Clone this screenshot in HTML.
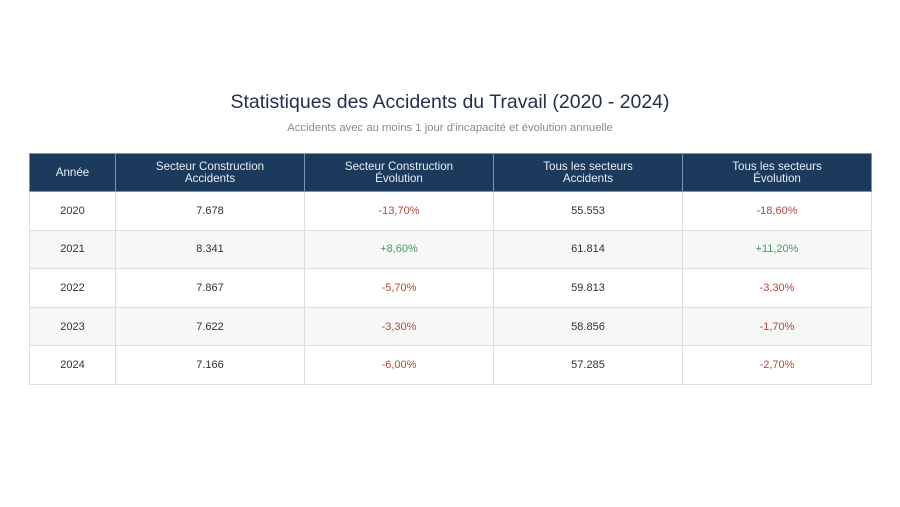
<!DOCTYPE html>
<html><head><meta charset="utf-8"><style>
html,body{margin:0;padding:0;background:#fff;width:900px;height:507px;overflow:hidden;font-family:"Liberation Sans",sans-serif;}
.title{position:absolute;left:0;width:900px;top:91px;text-align:center;font-size:19.5px;color:#22324a;}
.sub{position:absolute;left:0;width:900px;top:122px;text-align:center;font-size:11.3px;color:#8a8a8a;}
table{position:absolute;left:29px;top:153px;width:842px;border-collapse:collapse;table-layout:fixed;}
th{background:#1b3a5c;color:#e8eef5;font-weight:normal;font-size:11.6px;line-height:12px;height:37px;padding:0;border:1px solid #7e93ab;text-align:center;}
td{height:37.6px;padding:0;border:1px solid #dedede;text-align:center;font-size:11px;color:#333;}
tr:nth-child(even) td{background:#f7f7f7;}
.r{color:#b04a3c;}
.g{color:#3ea163;}
</style></head><body>
<div class="title">Statistiques des Accidents du Travail (2020 - 2024)</div>
<div class="sub">Accidents avec au moins 1 jour d'incapacité et évolution annuelle</div>
<table>
<colgroup><col style="width:86px"><col style="width:189px"><col style="width:189px"><col style="width:189px"><col style="width:189px"></colgroup>
<thead><tr><th>Année</th><th>Secteur Construction<br>Accidents</th><th>Secteur Construction<br>Évolution</th><th>Tous les secteurs<br>Accidents</th><th>Tous les secteurs<br>Évolution</th></tr></thead>
<tbody>
<tr><td>2020</td><td>7.678</td><td class="r">-13,70%</td><td>55.553</td><td class="r">-18,60%</td></tr>
<tr><td>2021</td><td>8.341</td><td class="g">+8,60%</td><td>61.814</td><td class="g">+11,20%</td></tr>
<tr><td>2022</td><td>7.867</td><td class="r">-5,70%</td><td>59.813</td><td class="r">-3,30%</td></tr>
<tr><td>2023</td><td>7.622</td><td class="r">-3,30%</td><td>58.856</td><td class="r">-1,70%</td></tr>
<tr><td>2024</td><td>7.166</td><td class="r">-6,00%</td><td>57.285</td><td class="r">-2,70%</td></tr>
</tbody></table>
</body></html>
